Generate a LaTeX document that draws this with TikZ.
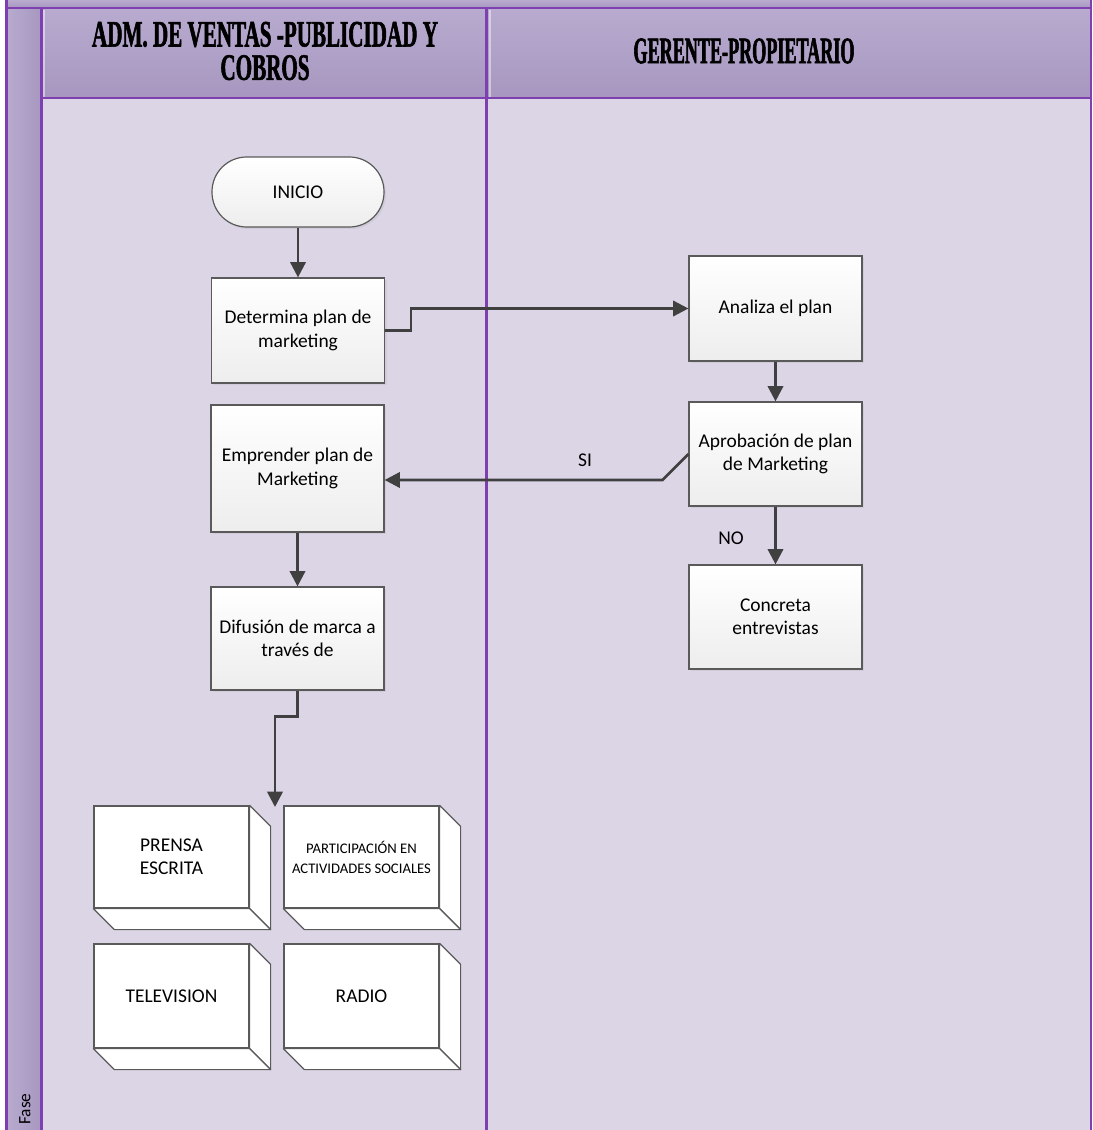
\documentclass[tikz,border=0pt]{standalone}
\usepackage{fontspec}
\setmainfont{Carlito}
\newfontfamily\headfont[FakeStretch=0.565,BoldFeatures={FakeBold=1.5}]{Liberation Serif}
\newfontfamily\headfontnarrow[FakeStretch=0.485,BoldFeatures={FakeBold=1.5}]{Liberation Serif}
\usetikzlibrary{arrows.meta,calc,shadows}

\definecolor{laneline}{RGB}{126,63,176}
\definecolor{headtop}{RGB}{184,171,207}
\definecolor{headbot}{RGB}{167,151,192}
\definecolor{lanebody}{RGB}{220,213,230}
\definecolor{flowcol}{RGB}{64,64,64}
\definecolor{boxline}{RGB}{90,90,90}

\tikzset{
  lanerule/.style={draw=laneline, line width=1.6pt},
  proc/.style={draw=boxline, line width=0.9pt, top color=white, bottom color=black!7,
    minimum width=129.75pt, inner sep=0pt, align=center,
    font=\fontsize{14.6}{17.5}\selectfont,
    drop shadow={shadow xshift=1.5pt, shadow yshift=-1.5pt, opacity=0.12}},
  term/.style={proc, rounded corners=26pt, minimum width=129pt, minimum height=52.5pt},
  media/.style={draw=boxline, line width=0.9pt, fill=white, minimum width=116.25pt,
    inner sep=0pt, align=center, font=\fontsize{14.6}{17.5}\selectfont},
  face/.style={draw=boxline, line width=0.9pt, fill=white, line join=round},
  flow/.style={draw=flowcol, line width=2pt, -{Triangle[width=11.5pt,length=11.5pt]}},
  flowlabel/.style={font=\fontsize{14.6}{17}\selectfont, inner sep=0pt},
  headtext/.style={font=\headfont\bfseries\fontsize{28}{25}\selectfont, align=center, inner sep=0pt}
}

\begin{document}
\begin{tikzpicture}[x=0.75pt,y=-0.75pt]
\useasboundingbox (0,0) rectangle (1092,1130);
\fill[white] (0,0) rectangle (1092,1130);

% pool frame: top band, phase column, lane headers, lane bodies
\shade[top color=headtop, bottom color=headbot] (6.5,0) rectangle (1091,8);
\shade[left color=headtop, right color=headbot] (6.5,8) rectangle (41.5,1130);
\shade[top color=headtop, bottom color=headbot] (41.5,8) rectangle (1091,98);
\fill[lanebody] (41.5,98) rectangle (1091,1130);

\draw[white, opacity=0.45, line width=1.5pt] (490,10) -- (490,97);
\draw[white, opacity=0.45, line width=1.5pt] (44,10) -- (44,97);

\draw[lanerule] (6.5,0) -- (6.5,1130);
\draw[lanerule] (1091,0) -- (1091,1130);
\draw[lanerule] (6.5,8) -- (1091,8);
\draw[lanerule] (41.5,8) -- (41.5,1130);
\draw[lanerule] (41.5,98) -- (1091,98);
\draw[lanerule] (486.5,8) -- (486.5,1130);

% lane titles
\node[headtext] (h1) at (265,51) {ADM. DE VENTAS -PUBLICIDAD Y\\COBROS};
\node[headtext, font=\headfontnarrow\bfseries\fontsize{28}{25}\selectfont] (h2) at (744,51) {GERENTE-PROPIETARIO};
\node[rotate=90, font=\fontsize{13}{15}\selectfont] (fase) at (25,1109) {Fase};

% process steps
\node[term] (ini) at (298,192) {INICIO};
\node[proc, minimum height=78.75pt] (det) at (298,330.5) {Determina plan de\\marketing};
\node[proc, minimum height=78.75pt] (ana) at (775.5,308.5) {Analiza el plan};
\node[proc, minimum height=78pt] (apr) at (775.5,454) {Aprobación de plan\\de Marketing};
\node[proc, minimum height=95.25pt] (emp) at (297.5,468.5) {Emprender plan de\\Marketing};
\node[proc, minimum height=77.25pt] (dif) at (297.5,638.5) {Difusión de marca a\\través de};
\node[proc, minimum height=78pt] (con) at (775.5,617) {Concreta\\entrevistas};

% media blocks (front faces)
\node[media, minimum height=76.5pt] (pre) at (171.5,857) {PRENSA\\ESCRITA};
\node[media, minimum height=76.5pt, font=\fontsize{11}{15}\selectfont] (par) at (361.5,857) {PARTICIPACIÓN EN\\ACTIVIDADES SOCIALES};
\node[media, minimum height=78pt] (tel) at (171.5,996) {TELEVISION};
\node[media, minimum height=78pt] (rad) at (361.5,996) {RADIO};

% depth faces of the media blocks
\foreach \b in {pre,par,tel,rad}{
  \draw[face] (\b.north east) -- ++(21,21) -- ($(\b.south east)+(21,21)$) -- (\b.south east) -- cycle;
  \draw[face] (\b.south west) -- ++(21,21) -- ($(\b.south east)+(21,21)$) -- (\b.south east) -- cycle;
}

% connectors
\draw[flow] (ini) -- (det);
\draw[flow] (det.east) -- ++(26,0) |- (ana.west);
\draw[flow] (ana) -- (apr);
\draw[flow] (apr.west) -- ++(-26,26) coordinate (sibend) -- (sibend -| emp.east);
\node[flowlabel] (si) at (585,460) {SI};
\draw[flow] (apr) -- (con);
\node[flowlabel] (no) at (731,538) {NO};
\draw[flow] (emp) -- (dif);
\coordinate (medtop) at (275,807);
\draw[flow] (dif.south) -- ++(0,26) -| (medtop);
\end{tikzpicture}
\end{document}
